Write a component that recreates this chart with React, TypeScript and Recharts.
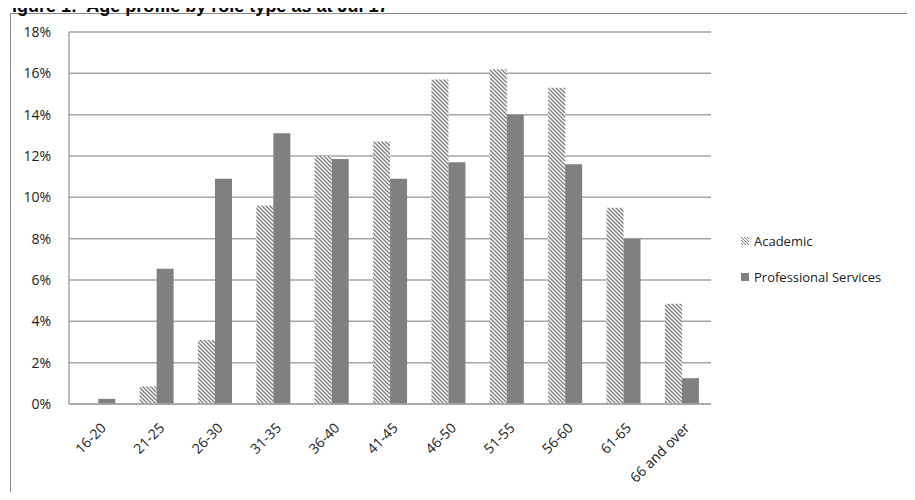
import React from "react";
import { BarChart, Bar, XAxis, YAxis, CartesianGrid } from "recharts";

const ageBands = [
  "16-20",
  "21-25",
  "26-30",
  "31-35",
  "36-40",
  "41-45",
  "46-50",
  "51-55",
  "56-60",
  "61-65",
  "66 and over",
];
const academic = [0, 0.85, 3.1, 9.6, 12.0, 12.7, 15.7, 16.2, 15.3, 9.5, 4.85];
const professional = [0.25, 6.55, 10.9, 13.1, 11.85, 10.9, 11.7, 14.0, 11.6, 8.0, 1.25];
const yTicks = [0, 2, 4, 6, 8, 10, 12, 14, 16, 18];

const rows = ageBands.map((band, i) => ({
  band,
  academic: academic[i],
  professional: professional[i],
}));

const FONT = "'Open Sans', 'Noto Sans', sans-serif";
const GRID = "#a6a6a6";
const SOLID = "#808080";

function AgeTick({ x, y, payload }: { x?: number; y?: number; payload?: { value: string } }) {
  return (
    <g transform={`translate(${(x ?? 0) + 6},${(y ?? 0) + 14})`}>
      <text
        textAnchor="end"
        transform="rotate(-45)"
        fontSize={14}
        fontFamily={FONT}
        fill="#222"
        dy={4}
      >
        {payload?.value}
      </text>
    </g>
  );
}

function LegendBox() {
  const item = (label: string, fill: string, top: number) => (
    <div
      style={{
        position: "absolute",
        left: 741,
        top,
        display: "flex",
        alignItems: "center",
        gap: 5,
        fontFamily: FONT,
        fontSize: 13,
        color: "#222",
        whiteSpace: "nowrap",
      }}
    >
      <svg width={8} height={8}>
        <rect width={8} height={8} fill={fill} />
      </svg>
      <span>{label}</span>
    </div>
  );
  return (
    <>
      {item("Academic", "url(#hatchLegend)", 232)}
      {item("Professional Services", SOLID, 268)}
    </>
  );
}

export default function App() {
  return (
    <div
      style={{
        position: "relative",
        width: 915,
        height: 500,
        margin: -8,
        overflow: "hidden",
        background: "#fff",
      }}
    >
      <svg width={0} height={0} style={{ position: "absolute" }}>
        <defs>
          <pattern id="hatchLegend" width={3} height={3} patternUnits="userSpaceOnUse">
            <path d="M-1,-1 L4,4 M2,-1 L4,1 M-1,2 L1,4" stroke="#7a7a7a" strokeWidth={1} />
          </pattern>
        </defs>
      </svg>
      {/* chart frame, runs off the right and bottom edges */}
      <div
        style={{
          position: "absolute",
          left: 10,
          top: 13,
          width: 1000,
          height: 600,
          border: "1px solid #8a8a8a",
        }}
      />
      <svg width={915} height={20} style={{ position: "absolute", left: 0, top: 0 }}>
        <text
          x={1}
          y={11.5}
          fontFamily="Arial, 'Liberation Sans', sans-serif"
          fontWeight="bold"
          fontSize={18}
          fill="#000"
          style={{ whiteSpace: "pre" }}
        >
          {"Figure 1:  Age profile by role type as at Jul 17"}
        </text>
      </svg>
      <div style={{ position: "absolute", left: 0, top: 0 }}>
        <BarChart
          width={915}
          height={500}
          data={rows}
          margin={{ top: 32, right: 204, bottom: 36, left: 0 }}
          barGap={0}
          barCategoryGap="21%"
        >
          <defs>
            <pattern id="hatch" width={4} height={4} patternUnits="userSpaceOnUse">
              <rect width={4} height={4} fill="#fff" />
              <path
                d="M-1,-1 L5,5 M3,-1 L5,1 M-1,3 L1,5"
                stroke="#808080"
                strokeWidth={1.4}
              />
            </pattern>
          </defs>
          <CartesianGrid vertical={false} stroke={GRID} strokeWidth={1.5} />
          <XAxis
            dataKey="band"
            height={60}
            interval={0}
            tickLine={false}
            axisLine={{ stroke: GRID, strokeWidth: 1.5 }}
            tick={<AgeTick />}
          />
          <YAxis
            width={69}
            domain={[0, 18]}
            ticks={yTicks}
            tickFormatter={(v: number) => `${v}%`}
            tickLine={false}
            axisLine={{ stroke: GRID, strokeWidth: 1.5 }}
            tick={{ fontSize: 14, fontFamily: FONT, fill: "#222" }}
            tickMargin={12}
          />
          <Bar dataKey="academic" fill="url(#hatch)" isAnimationActive={false} />
          <Bar dataKey="professional" fill={SOLID} isAnimationActive={false} />
        </BarChart>
      </div>
      <LegendBox />
    </div>
  );
}
